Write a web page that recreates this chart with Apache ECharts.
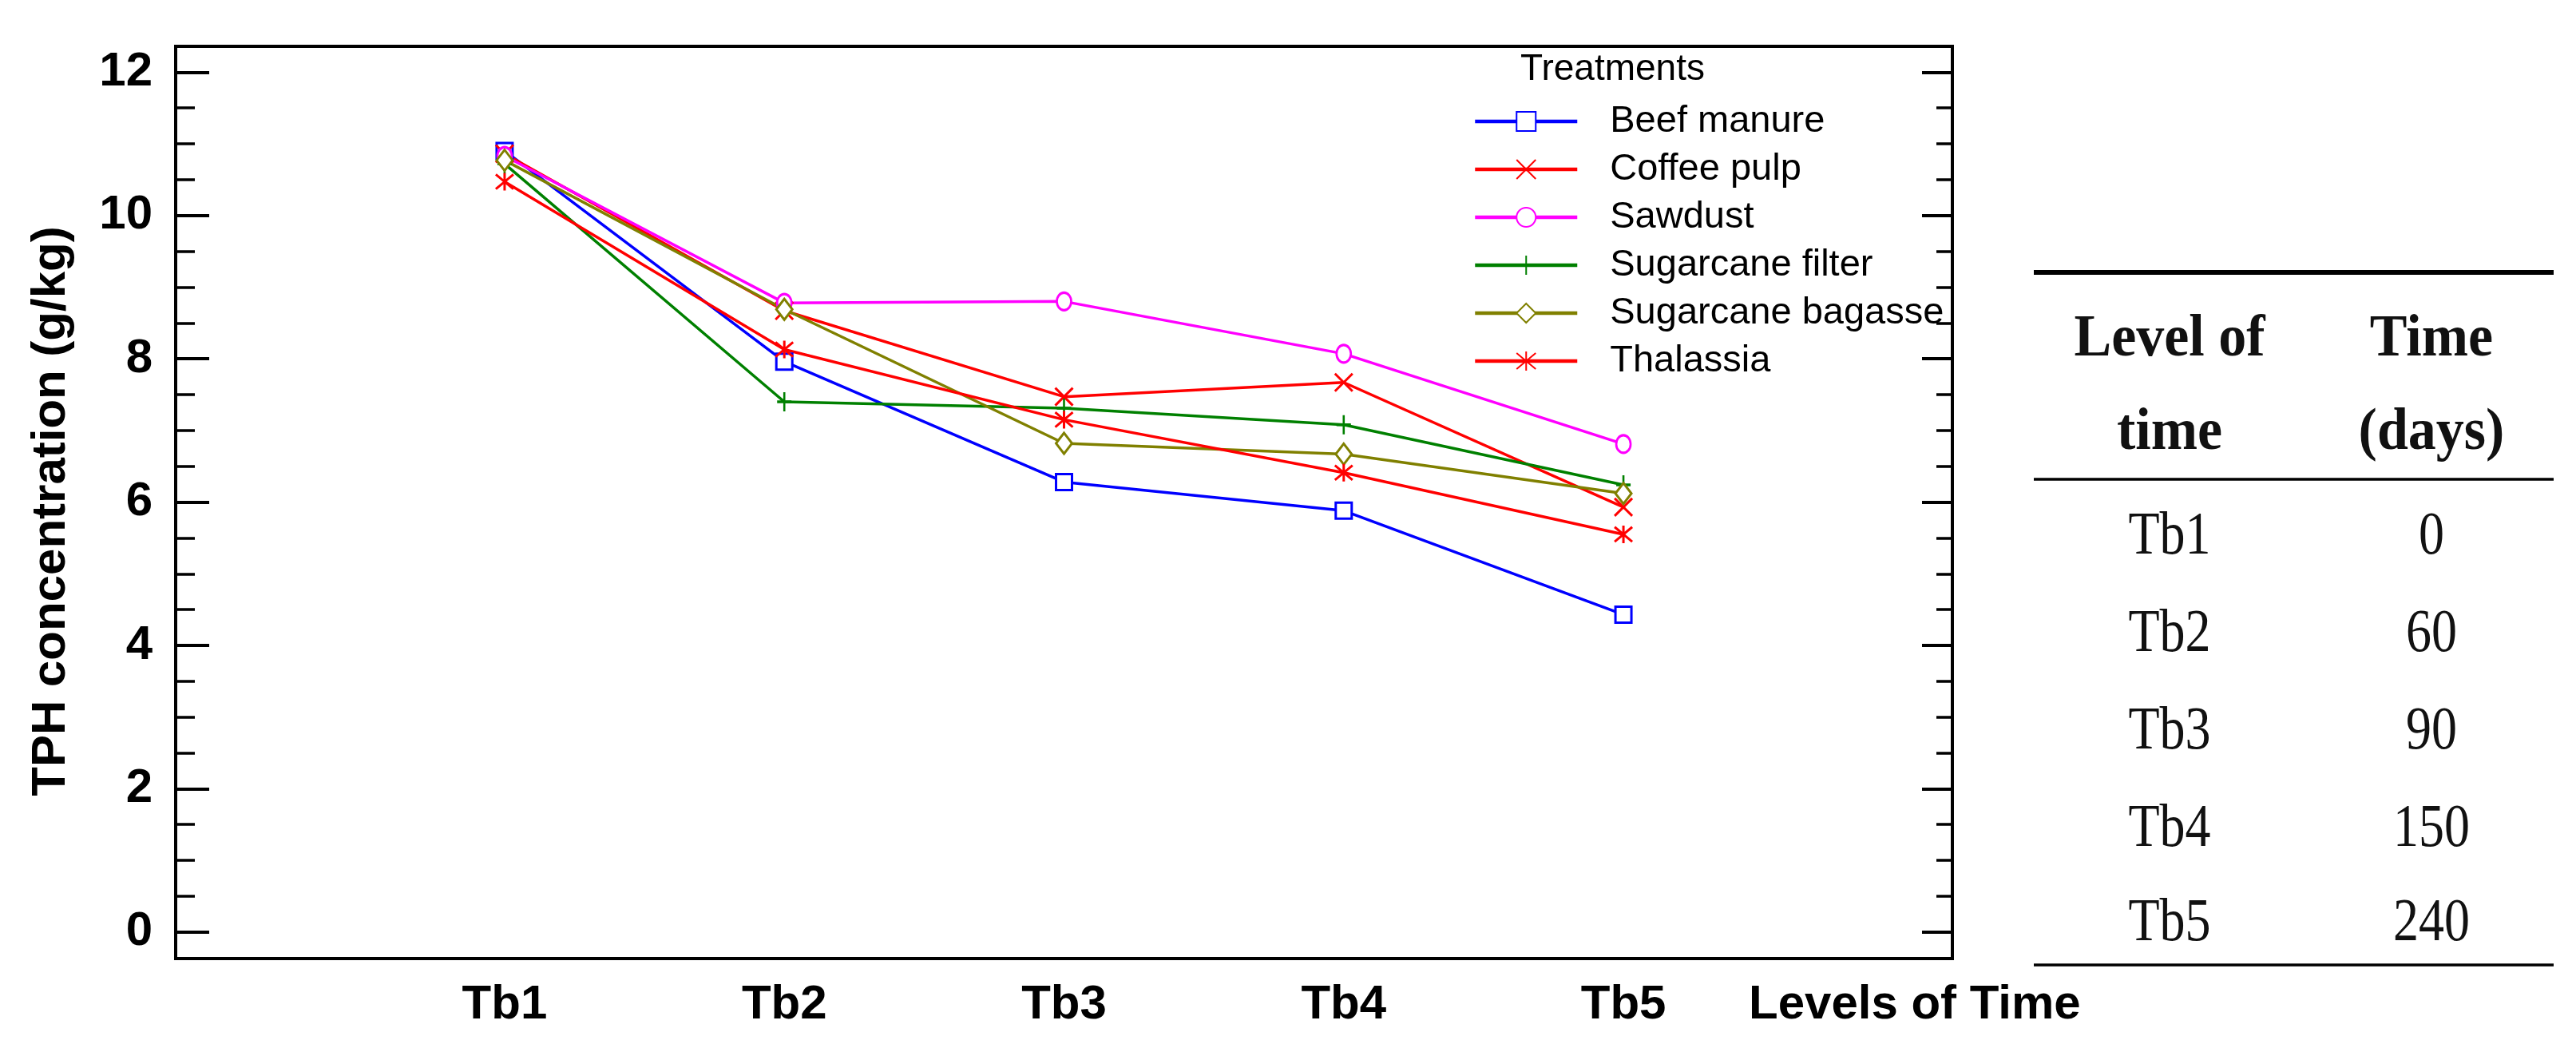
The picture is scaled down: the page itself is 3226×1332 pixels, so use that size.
<!DOCTYPE html>
<html><head><meta charset="utf-8">
<script src="https://cdn.jsdelivr.net/npm/echarts@6/dist/echarts.min.js"></script>
<style>html,body{margin:0;padding:0;background:#fff}#c{width:3226px;height:1332px}</style>
</head><body><div id="c"></div>
<script>
// ---- data ----
const categories = ['Tb1', 'Tb2', 'Tb3', 'Tb4', 'Tb5'];
const beefManure = [10.90, 7.96, 6.28, 5.88, 4.43];
const coffeePulp = [10.86, 8.67, 7.47, 7.67, 5.93];
const sawdust = [10.83, 8.78, 8.80, 8.07, 6.81];
const sugarcaneFilter = [10.72, 7.40, 7.31, 7.08, 6.24];
const sugarcaneBagasse = [10.77, 8.69, 6.82, 6.67, 6.12];
const thalassia = [10.47, 8.13, 7.15, 6.41, 5.55];
const yMajorTicks = [0, 2, 4, 6, 8, 10, 12];
const yMinorTicks = [0.5, 1, 1.5, 2.5, 3, 3.5, 4.5, 5, 5.5, 6.5, 7, 7.5, 8.5, 9, 9.5, 10.5, 11, 11.5];
const tableLevels = ['Tb1', 'Tb2', 'Tb3', 'Tb4', 'Tb5'];
const tableDays = ['0', '60', '90', '150', '240'];
const xPositions = [1, 2, 3, 4, 5];

const SANS = '"Liberation Sans", Arial, sans-serif';
const SERIF = '"Liberation Serif", "Times New Roman", serif';

function mk(name, values, color, symbol, size) {
  return {
    name: name,
    type: 'line',
    xAxisIndex: 0,
    yAxisIndex: 0,
    data: values.map((v, i) => [xPositions[i], v]),
    color: color,
    symbol: symbol,
    symbolSize: size,
    showAllSymbol: true,
    lineStyle: { color: color, width: 3.5 },
    itemStyle: { color: '#fff', borderColor: color, borderWidth: 3 },
    emphasis: { disabled: true },
    animation: false
  };
}

const X_PATH = 'path://M0,0L10,10M10,0L0,10';
const PLUS_PATH = 'path://M5,0L5,12M0,6L10,6';
const STAR_PATH = 'path://M0,0L10,10M10,0L0,10M5,-1L5,11';

const series = [
  mk('Beef manure', beefManure, '#0000FF', 'rect', 20),
  mk('Coffee pulp', coffeePulp, '#FF0000', X_PATH, 22),
  mk('Sawdust', sawdust, '#FF00FF', 'circle', [18, 22]),
  mk('Sugarcane filter', sugarcaneFilter, '#008000', PLUS_PATH, [18, 24]),
  mk('Sugarcane bagasse', sugarcaneBagasse, '#808000', 'diamond', [20, 26]),
  mk('Thalassia', thalassia, '#FF0000', STAR_PATH, 22)
];

const Y_MIN = -0.37, Y_MAX = 12.36, X_MIN = -0.176, X_MAX = 6.176;
const yBase = { type: 'value', min: Y_MIN, max: Y_MAX, splitLine: { show: false }, axisLine: { show: false, onZero: false } };

const graphic = [
  { type: 'text', x: 1904, y: 87, style: { text: 'Treatments', font: '46px ' + SANS, fill: '#000', textVerticalAlign: 'middle' } },
  { type: 'text', x: 2190, y: 1258, style: { text: 'Levels of Time', font: 'bold 60px ' + SANS, fill: '#000', textVerticalAlign: 'middle' } },
  { type: 'text', x: 64, y: 640, rotation: Math.PI / 2, style: { text: 'TPH concentration (g/kg)', font: 'bold 60px ' + SANS, fill: '#000', textAlign: 'center', textVerticalAlign: 'middle' } },
  { type: 'line', shape: { x1: 2547, y1: 341, x2: 3198, y2: 341 }, style: { stroke: '#000', lineWidth: 6 } },
  { type: 'line', shape: { x1: 2547, y1: 600, x2: 3198, y2: 600 }, style: { stroke: '#000', lineWidth: 3.5 } },
  { type: 'line', shape: { x1: 2547, y1: 1208, x2: 3198, y2: 1208 }, style: { stroke: '#000', lineWidth: 3.5 } }
];
function tText(txt, x, baseline, bold) {
  const fs = bold ? 70 : 64;
  const sy = bold ? 1.05 : 1.2;
  graphic.push({ type: 'text', x: x, y: baseline - 0.33 * fs * sy, scaleY: sy,
    style: { text: txt, font: (bold ? 'bold ' : '') + fs + 'px ' + SERIF, fill: '#111', textAlign: 'center', textVerticalAlign: 'middle' } });
}
tText('Level of', 2717, 450, true);
tText('time', 2717, 567, true);
tText('Time', 3045, 450, true);
tText('(days)', 3045, 567, true);
const rowBaselines = [698, 820, 942, 1064, 1182];
tableLevels.forEach((t, i) => { tText(t, 2717, rowBaselines[i], false); tText(tableDays[i], 3045, rowBaselines[i], false); });

const gridRect = { left: 220, right: 781, top: 58, bottom: 132 };
const tickLine = w => ({ color: '#000', width: w });

const option = {
  animation: false,
  backgroundColor: '#fff',
  grid: [
    Object.assign({ show: true, borderColor: '#000', borderWidth: 4, backgroundColor: 'transparent' }, gridRect),
    Object.assign({ show: false }, gridRect)
  ],
  xAxis: [
    {
      gridIndex: 0, type: 'value', min: X_MIN, max: X_MAX,
      axisLine: { show: false, onZero: false }, axisTick: { show: false }, splitLine: { show: false },
      axisLabel: { customValues: xPositions, formatter: v => categories[Math.round(v) - 1], fontFamily: SANS, fontSize: 60, fontWeight: 'bold', color: '#000', margin: 28 }
    },
    { gridIndex: 1, type: 'value', min: X_MIN, max: X_MAX, show: false, axisLine: { onZero: false } }
  ],
  yAxis: [
    Object.assign({}, yBase, { gridIndex: 0, position: 'left',
      axisTick: { inside: true, length: 42, customValues: yMajorTicks, lineStyle: tickLine(4) },
      axisLabel: { customValues: yMajorTicks, fontFamily: SANS, fontSize: 60, fontWeight: 'bold', color: '#000', margin: 29 } }),
    Object.assign({}, yBase, { gridIndex: 0, position: 'right',
      axisTick: { inside: true, length: 38, customValues: yMajorTicks, lineStyle: tickLine(4) }, axisLabel: { show: false } }),
    Object.assign({}, yBase, { gridIndex: 1, position: 'left',
      axisTick: { inside: true, length: 24, customValues: yMinorTicks, lineStyle: tickLine(3.5) }, axisLabel: { show: false } }),
    Object.assign({}, yBase, { gridIndex: 1, position: 'right',
      axisTick: { inside: true, length: 20, customValues: yMinorTicks, lineStyle: tickLine(3.5) }, axisLabel: { show: false } })
  ],
  legend: {
    orient: 'vertical', left: 1840, top: 122, itemWidth: 128, itemHeight: 30, itemGap: 10,
    selectedMode: false,
    lineStyle: { width: 4.5 },
    textStyle: { fontFamily: SANS, fontSize: 47, color: '#000', lineHeight: 50, padding: [0, 0, 0, 36] },
    data: series.map(s => s.name)
  },
  series: series,
  graphic: graphic
};

const chart = echarts.init(document.getElementById('c'), null, { renderer: 'canvas' });
chart.setOption(option);
</script>
</body></html>
